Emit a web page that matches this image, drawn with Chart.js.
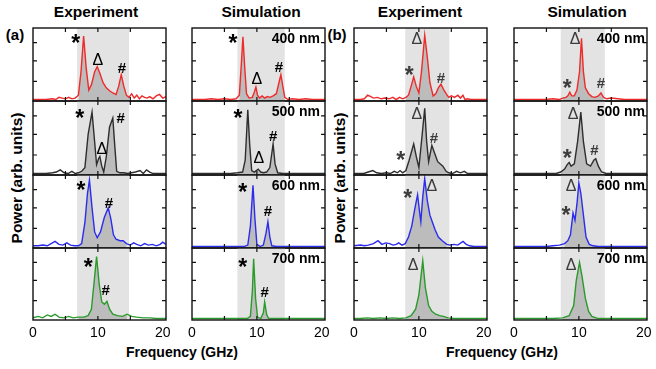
<!DOCTYPE html>
<html>
<head>
<meta charset="utf-8">
<script src="https://cdn.jsdelivr.net/npm/chart.js@4"></script>
<style>
body { margin: 0; width: 656px; height: 369px; position: relative; background: #fff; overflow: hidden;
       font-family: 'Liberation Sans', Arial, sans-serif; }
canvas { position: absolute; }
.t { position: absolute; font-weight: bold; white-space: nowrap; transform: translate(-50%, -50%); color: #000; }
</style>
</head>
<body>
<div class="t" style="left:96px;top:12px;font-size:15.5px">Experiment</div>
<div class="t" style="left:261px;top:12px;font-size:15.5px">Simulation</div>
<div class="t" style="left:420px;top:12px;font-size:15.5px">Experiment</div>
<div class="t" style="left:587px;top:12px;font-size:15.5px">Simulation</div>
<div class="t" style="left:15px;top:34px;font-size:15px">(a)</div>
<div class="t" style="left:337px;top:34px;font-size:15px">(b)</div>
<div class="t" style="left:17px;top:178px;font-size:15.5px;transform:translate(-50%,-50%) rotate(-90deg)">Power (arb. units)</div>
<div class="t" style="left:340px;top:178px;font-size:15.5px;transform:translate(-50%,-50%) rotate(-90deg)">Power (arb. units)</div>
<div class="t" style="left:182px;top:352px;font-size:14px">Frequency (GHz)</div>
<div class="t" style="left:502px;top:352px;font-size:14px">Frequency (GHz)</div>
<script>
// values: [GHz, normalised power]
const wavelengths = ['400 nm', '500 nm', '600 nm', '700 nm'];
const xTicks = [0, 10, 20];
const bands = [[6.8, 14.8], [7.0, 14.3], [7.9, 14.7], [7.2, 14.0]];

const expA400 = [[0,0.02],[1,0.02],[2,0.02],[3,0.03],[3.5,0.02],[4,0.05],[4.5,0.04],[5,0.03],[5.5,0.05],[6,0.03],[6.5,0.04],[7,0.08],[7.4,0.4],[7.8,0.89],[8.2,0.45],[8.6,0.15],[9,0.22],[9.5,0.4],[9.9,0.47],[10.3,0.38],[10.8,0.25],[11.3,0.18],[11.8,0.14],[12.3,0.11],[12.8,0.09],[13.2,0.2],[13.6,0.36],[14,0.2],[14.4,0.08],[14.8,0.05],[15.2,0.1],[15.6,0.04],[16,0.08],[16.4,0.03],[16.8,0.07],[17.2,0.05],[17.6,0.04],[18,0.06],[18.5,0.03],[19,0.07],[19.5,0.09],[20,0.04],[20.5,0.06]];
const simA400 = [[0,0.02],[2,0.02],[3,0.03],[4,0.02],[5,0.03],[6,0.02],[6.8,0.03],[7.3,0.08],[7.6,0.5],[7.85,0.88],[8.1,0.5],[8.4,0.1],[8.8,0.04],[9.3,0.05],[9.6,0.12],[9.85,0.19],[10.1,0.08],[10.4,0.04],[10.8,0.07],[11.2,0.04],[11.6,0.06],[12,0.05],[12.5,0.07],[13,0.1],[13.4,0.25],[13.7,0.36],[14,0.2],[14.3,0.05],[14.8,0.02],[15.5,0.03],[16.5,0.02],[17.5,0.03],[18.5,0.02],[20.5,0.02]];
const expB400 = [[0,0.02],[1,0.02],[1.6,0.03],[2.1,0.08],[2.6,0.06],[3,0.04],[3.6,0.05],[4.2,0.03],[4.8,0.04],[5.4,0.03],[6,0.05],[6.5,0.02],[7,0.05],[7.5,0.03],[8,0.05],[8.4,0.08],[8.8,0.2],[9.2,0.33],[9.6,0.2],[10,0.11],[10.4,0.4],[10.9,0.9],[11.3,0.6],[11.7,0.25],[12.2,0.07],[12.6,0.1],[13,0.18],[13.4,0.23],[13.8,0.16],[14.2,0.1],[14.6,0.05],[15,0.07],[15.5,0.05],[16,0.08],[16.4,0.04],[16.8,0.08],[17.1,0.02],[17.5,0.03],[18,0.02],[19,0.02],[20.5,0.02]];
const simB400 = [[0,0.02],[3,0.02],[5,0.02],[6,0.03],[7,0.02],[7.5,0.04],[8,0.05],[8.3,0.07],[8.6,0.12],[8.9,0.07],[9.3,0.07],[9.7,0.15],[10.1,0.4],[10.4,0.86],[10.7,0.4],[11,0.18],[11.5,0.1],[12,0.06],[12.5,0.05],[13,0.07],[13.4,0.11],[13.8,0.05],[14.3,0.03],[15,0.04],[16,0.03],[17,0.02],[20.5,0.02]];

const expA500 = [[0,0.02],[1,0.02],[2,0.02],[3,0.03],[3.6,0.04],[4.2,0.07],[4.8,0.03],[5.4,0.02],[6,0.05],[6.5,0.02],[7,0.03],[7.5,0.05],[8,0.1],[8.5,0.55],[9.1,0.85],[9.5,0.45],[9.8,0.14],[10.1,0.22],[10.3,0.25],[10.6,0.12],[10.9,0.04],[11.3,0.25],[11.8,0.65],[12.3,0.77],[12.6,0.4],[12.9,0.05],[13.4,0.03],[14,0.03],[14.6,0.02],[15.2,0.03],[15.8,0.04],[16.5,0.06],[17,0.02],[17.5,0.07],[18,0.04],[18.5,0.02],[19.5,0.02],[20.5,0.02]];
const simA500 = [[0,0.02],[2,0.02],[4,0.02],[6,0.02],[7,0.03],[7.8,0.04],[8.2,0.2],[8.6,0.88],[8.9,0.4],[9.2,0.06],[9.6,0.04],[10.2,0.08],[10.6,0.04],[11,0.03],[11.5,0.04],[12,0.1],[12.5,0.42],[12.8,0.15],[13.2,0.03],[14,0.02],[16,0.02],[18,0.02],[20.5,0.02]];
const expB500 = [[0,0.02],[1,0.02],[1.5,0.02],[2.2,0.04],[2.9,0.06],[3.5,0.03],[4.2,0.02],[5,0.03],[5.6,0.02],[6.2,0.05],[6.7,0.03],[7.1,0.06],[7.5,0.03],[8,0.06],[8.5,0.2],[9.2,0.42],[9.6,0.25],[10,0.1],[10.4,0.45],[10.9,0.9],[11.2,0.45],[11.5,0.18],[12,0.4],[12.4,0.3],[12.9,0.18],[13.7,0.12],[14.2,0.05],[14.6,0.03],[15.2,0.02],[15.8,0.05],[16.4,0.03],[17,0.05],[17.5,0.02],[18.5,0.02],[20.5,0.02]];
const simB500 = [[0,0.02],[3,0.02],[5,0.02],[6.5,0.02],[7.2,0.04],[7.8,0.08],[8.2,0.14],[8.5,0.17],[8.8,0.12],[9.3,0.15],[9.8,0.45],[10.3,0.85],[10.7,0.45],[11.2,0.15],[11.8,0.12],[12.3,0.2],[12.6,0.22],[13,0.12],[13.5,0.04],[14.2,0.02],[16,0.02],[20.5,0.02]];

const expA600 = [[0,0.03],[0.8,0.03],[1.5,0.04],[2.2,0.03],[2.8,0.06],[3.4,0.09],[4,0.05],[4.6,0.04],[5.2,0.07],[5.8,0.04],[6.4,0.03],[7,0.03],[7.5,0.06],[8,0.35],[8.4,0.75],[8.7,0.93],[9.1,0.55],[9.5,0.22],[9.9,0.14],[10.4,0.22],[11,0.42],[11.6,0.55],[12,0.4],[12.4,0.18],[12.8,0.12],[13.4,0.1],[13.9,0.1],[14.4,0.06],[15,0.04],[15.5,0.07],[16,0.05],[16.6,0.03],[17.2,0.06],[17.8,0.04],[18.4,0.05],[19,0.03],[19.6,0.05],[20,0.08],[20.5,0.05]];
const simA600 = [[0,0.02],[4,0.02],[6,0.02],[7,0.02],[8,0.02],[8.6,0.04],[9,0.3],[9.4,0.86],[9.7,0.4],[10,0.05],[10.5,0.02],[11,0.04],[11.4,0.2],[11.7,0.36],[12,0.15],[12.3,0.03],[13,0.02],[15,0.02],[20.5,0.02]];
const expB600 = [[0,0.03],[1,0.04],[1.6,0.03],[2.2,0.04],[3,0.06],[3.7,0.1],[4.3,0.05],[4.9,0.07],[5.5,0.06],[6,0.04],[6.5,0.05],[6.9,0.07],[7.4,0.04],[7.9,0.06],[8.4,0.15],[8.9,0.3],[9.4,0.55],[9.8,0.73],[10.1,0.5],[10.3,0.36],[10.6,0.7],[10.9,0.95],[11.3,0.65],[11.7,0.45],[12.1,0.35],[12.5,0.25],[13,0.15],[13.6,0.1],[14.3,0.05],[14.8,0.04],[15.4,0.05],[16,0.04],[16.8,0.09],[17.3,0.05],[17.8,0.03],[18.5,0.02],[20.5,0.02]];
const simB600 = [[0,0.02],[3,0.02],[5,0.02],[6,0.03],[7,0.04],[7.8,0.06],[8.3,0.1],[8.7,0.18],[9.1,0.48],[9.4,0.38],[9.7,0.6],[10,0.89],[10.3,0.75],[10.7,0.45],[11.1,0.15],[11.6,0.05],[12.2,0.03],[13,0.02],[15,0.02],[20.5,0.02]];

const expA700 = [[0,0.03],[0.8,0.05],[1.5,0.03],[2.2,0.07],[2.8,0.05],[3.4,0.08],[4,0.04],[4.8,0.03],[5.5,0.05],[6.2,0.03],[7,0.04],[7.8,0.04],[8.5,0.06],[9,0.15],[9.5,0.6],[9.8,0.88],[10.2,0.5],[10.6,0.25],[11,0.22],[11.4,0.26],[11.8,0.15],[12.3,0.08],[13,0.06],[13.8,0.05],[14.5,0.08],[15.2,0.05],[16,0.04],[17,0.03],[18,0.03],[19,0.02],[20.5,0.02]];
const simA700 = [[0,0.02],[5,0.02],[7,0.02],[8.5,0.02],[9,0.05],[9.3,0.4],[9.5,0.85],[9.8,0.3],[10.1,0.04],[10.6,0.02],[11,0.1],[11.2,0.25],[11.5,0.08],[11.8,0.02],[14,0.02],[20.5,0.02]];
const expB700 = [[0,0.02],[1,0.02],[2,0.03],[3,0.02],[4,0.03],[5,0.02],[6,0.03],[7,0.02],[8,0.03],[8.8,0.06],[9.5,0.15],[10,0.35],[10.6,0.82],[11,0.45],[11.5,0.2],[12,0.12],[12.6,0.08],[13.2,0.06],[13.8,0.05],[14.5,0.03],[15.5,0.02],[17,0.02],[20.5,0.02]];
const simB700 = [[0,0.02],[4,0.02],[6,0.02],[7.5,0.03],[8.5,0.06],[9.2,0.2],[9.6,0.55],[10.1,0.8],[10.5,0.6],[11,0.3],[11.5,0.12],[12,0.05],[13,0.02],[20.5,0.02]];

const series = [
    [expA400, simA400, expB400, simB400],
    [expA500, simA500, expB500, simB500],
    [expA600, simA600, expB600, simB600],
    [expA700, simA700, expB700, simB700]
];

// peak markers: [symbol, GHz, height]
const marks = [
    [[['*',6.6,0.86],['Δ',10,0.58],['#',13.7,0.46]], [['*',6.3,0.86],['Δ',10,0.32],['#',13.4,0.47]],
     [['Δ',9.7,0.86],['*',8.5,0.42],['#',13.4,0.32]], [['Δ',9.4,0.86],['*',8.2,0.25],['#',13.4,0.25]]],
    [[['*',7.2,0.84],['Δ',10.6,0.37],['#',13.5,0.78]], [['*',7.1,0.84],['Δ',10.3,0.24],['#',12.5,0.54]],
     [['Δ',9.7,0.84],['#',12.3,0.51],['*',7.2,0.27]], [['Δ',9.1,0.84],['*',8.2,0.3],['#',12.4,0.34]]],
    [[['*',7.4,0.86],['#',11.7,0.63]], [['*',7.8,0.84],['#',11.7,0.52]],
     [['*',8.3,0.75],['Δ',12,0.86]], [['Δ',8.8,0.86],['*',8,0.52]]],
    [[['*',8.5,0.8],['#',11.2,0.42]], [['*',7.8,0.8],['#',11.2,0.39]],
     [['Δ',9.1,0.78]], [['Δ',8.8,0.78]]]
];

const cols = [{left: 33, width: 133}, {left: 192, width: 133}, {left: 354, width: 133}, {left: 514, width: 133}];
const rows = [{top: 28, height: 73}, {top: 101, height: 74}, {top: 175, height: 73}, {top: 248, height: 72}];
const lineColors = ['#ee2a2a', '#2e2e2e', '#2c2cee', '#2a9a2a'];
const FONT = "'Liberation Sans', Arial, sans-serif";

function makePanel(r, c) {
    const bottom = r === rows.length - 1;
    const sim = c % 2 === 1;
    const band = bands[c];
    const pts = series[r][c].map(p => ({x: p[0], y: p[1]}));
    const inBand = pts.filter(p => p.x >= band[0] && p.x <= band[1]);

    let canvas = document.createElement('canvas');
    canvas.width = cols[c].width + 20;
    canvas.height = rows[r].height + 2 + (bottom ? 24 : 2);
    canvas.style.left = (cols[c].left - 10) + 'px';
    canvas.style.top = (rows[r].top - 2) + 'px';
    document.body.appendChild(canvas);

    const panelPlugin = {
        id: 'panel' + r + c,
        beforeDatasetsDraw(chart) {
            const {ctx, chartArea: a, scales: {x}} = chart;
            const x0 = x.getPixelForValue(band[0]), x1 = x.getPixelForValue(band[1]);
            ctx.save();
            ctx.fillStyle = '#e3e3e3';
            ctx.fillRect(x0, a.top, x1 - x0, a.bottom - a.top);
            ctx.restore();
        },
        afterDraw(chart) {
            const {ctx, chartArea: a, scales: {x, y}} = chart;
            ctx.save();
            ctx.strokeStyle = '#111';
            ctx.lineWidth = 1.4;
            ctx.strokeRect(a.left, a.top, a.right - a.left, a.bottom - a.top);
            ctx.lineWidth = 1.2;
            ctx.beginPath();
            [5, 10, 15].forEach(v => {
                const px = x.getPixelForValue(v);
                ctx.moveTo(px, a.top); ctx.lineTo(px, a.top + 4);
                ctx.moveTo(px, a.bottom); ctx.lineTo(px, a.bottom - 4);
            });
            [0.27, 0.55, 0.8].forEach(v => {
                const py = y.getPixelForValue(v);
                ctx.moveTo(a.left, py); ctx.lineTo(a.left + 4, py);
                ctx.moveTo(a.right, py); ctx.lineTo(a.right - 4, py);
            });
            ctx.stroke();

            ctx.fillStyle = c < 2 ? '#000' : '#3c3c3c';
            ctx.textAlign = 'center';
            ctx.textBaseline = 'alphabetic';
            marks[r][c].forEach(m => {
                const px = x.getPixelForValue(m[1]), py = y.getPixelForValue(m[2]);
                if (m[0] === '*') {
                    ctx.font = 'bold 23px ' + FONT;
                    ctx.fillText(m[0], px, py + 13);
                } else if (m[0] === 'Δ') {
                    ctx.font = '16px ' + FONT;
                    ctx.fillText(m[0], px, py + 6);
                } else {
                    ctx.font = 'bold 15px ' + FONT;
                    ctx.fillText(m[0], px, py + 5.5);
                }
            });

            if (sim) {
                ctx.fillStyle = '#000';
                ctx.font = 'bold 14px ' + FONT;
                ctx.textAlign = 'right';
                ctx.fillText(wavelengths[r], a.right - (c === 1 ? 5 : 2), a.top + 15);
            }
            ctx.restore();
        }
    };

    new Chart(canvas, {
        type: 'line',
        data: {
            datasets: [
                {data: pts, borderColor: lineColors[r], borderWidth: 1.4, pointRadius: 0, fill: false, order: 0},
                {data: inBand, borderWidth: 0, borderColor: 'rgba(0,0,0,0)', pointRadius: 0,
                 fill: 'origin', backgroundColor: '#bcbcbc', order: 1}
            ]
        },
        options: {
            responsive: false,
            animation: false,
            events: [],
            layout: {padding: {left: 10, right: 10, top: 2, bottom: bottom ? 0 : 2}},
            plugins: {legend: {display: false}, tooltip: {enabled: false}},
            scales: {
                x: {
                    type: 'linear', min: 0, max: 20.5,
                    display: bottom,
                    afterBuildTicks: axis => { axis.ticks = xTicks.map(v => ({value: v})); },
                    afterFit: axis => { if (bottom) axis.height = 24; },
                    grid: {display: false, drawTicks: false},
                    border: {display: false},
                    ticks: {autoSkip: false, maxRotation: 0, padding: 5, color: '#000',
                            font: {family: FONT, size: 14}}
                },
                y: {min: 0, max: 1, display: false}
            }
        },
        plugins: [panelPlugin]
    });
}

rows.forEach((row, r) => cols.forEach((col, c) => makePanel(r, c)));
</script>
</body>
</html>
